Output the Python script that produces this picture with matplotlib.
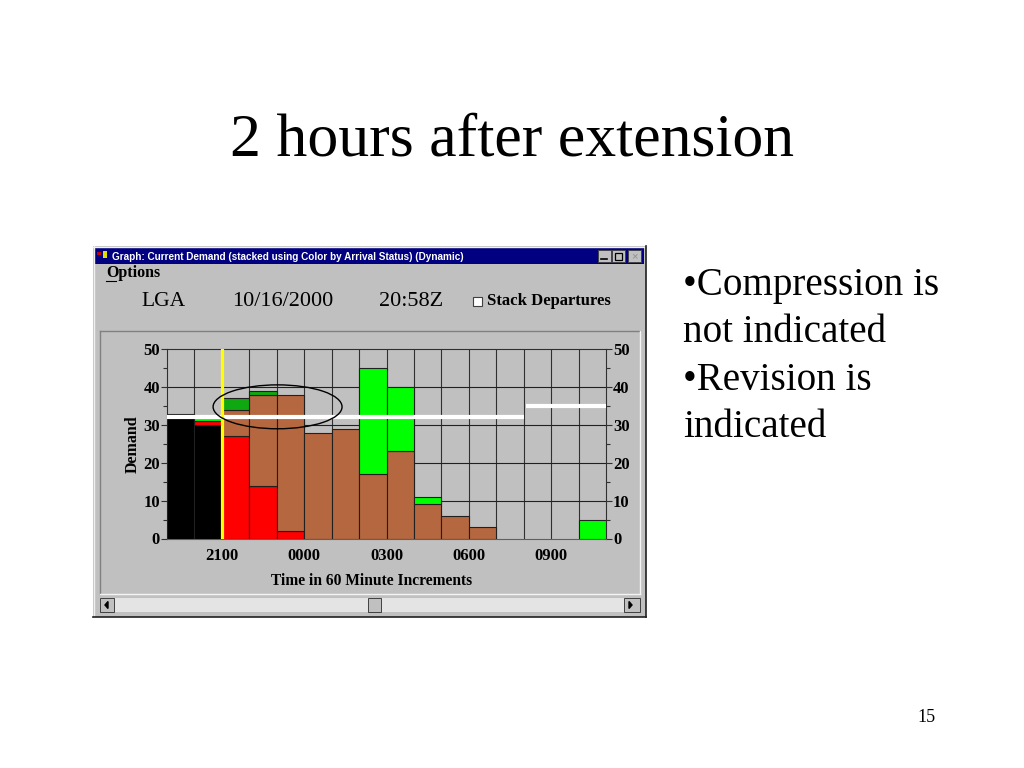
import matplotlib
matplotlib.use("Agg")
import matplotlib.pyplot as plt
from matplotlib.patches import Rectangle, Ellipse
import numpy as np

# ---------------- data ----------------
hours = ['1900', '2000', '2100', '2200', '2300', '0000', '0100', '0200',
         '0300', '0400', '0500', '0600', '0700', '0800', '0900', '1000']
black_vals = [33, 30, 0, 0, 0, 0, 0, 0, 0, 0, 0, 0, 0, 0, 0, 0]
red_vals = [0, 1, 27, 14, 2, 0, 0, 0, 0, 0, 0, 0, 0, 0, 0, 0]
brown_vals = [0, 0, 7, 24, 36, 28, 29, 17, 23, 9, 6, 3, 0, 0, 0, 0]
dkgreen_vals = [0, 0, 3, 1, 0, 0, 0, 0, 0, 0, 0, 0, 0, 0, 0, 0]
lime_vals = [0, 1, 0, 0, 0, 0, 0, 28, 17, 2, 0, 0, 0, 0, 0, 5]
capacity_1 = 32   # up to 0800
capacity_2 = 35   # from 0800
cap_change_hour = '0800'
now_hour = '2100'
tick_hours = ['2100', '0000', '0300', '0600', '0900']
y_ticks = [0, 10, 20, 30, 40, 50]

title = "2 hours after extension"
bullets = ["\u2022Compression is", "not indicated", "\u2022Revision is", "indicated"]
win_title = "Graph: Current Demand (stacked using Color by Arrival Status) (Dynamic)"

W, H = 1024, 768
fig = plt.figure(figsize=(W / 100, H / 100), dpi=100)
fig.patch.set_facecolor('white')

# background pixel-space axes
bg = fig.add_axes([0, 0, 1, 1])
bg.set_xlim(0, W)
bg.set_ylim(H, 0)
bg.axis('off')

GREY = '#c0c0c0'
serif = 'Liberation Serif'
sans = 'Liberation Sans'

# slide texts
bg.text(512, 155, title, ha='center', va='baseline', fontsize=44.5, family=serif)
for i, line in enumerate(bullets):
    bg.text(683, 295 + i * 47.3, line, ha='left', va='baseline', fontsize=28.2, family=serif)
bg.text(926, 718, "15", ha='center', va='center', fontsize=13, family=serif)

# window frame
bg.add_patch(Rectangle((93, 246), 553, 371, facecolor=GREY, edgecolor='none'))
bg.plot([93, 646], [246.5, 246.5], color='#f0f0f0', lw=1)
bg.plot([93.5, 93.5], [246, 617], color='#f0f0f0', lw=1)
bg.plot([93, 646], [616.5, 616.5], color='#202020', lw=1.2)
bg.plot([645.5, 645.5], [246, 617], color='#202020', lw=1.2)
# title bar
bg.add_patch(Rectangle((95, 248), 549, 16, facecolor='#000080', edgecolor='none'))
bg.add_patch(Rectangle((97, 252), 4, 3, facecolor='#c00000', edgecolor='none'))
bg.add_patch(Rectangle((103, 251), 4, 7, facecolor='#e0e000', edgecolor='none'))
bg.text(112, 256.5, win_title, ha='left', va='center', fontsize=7.2,
        family=sans, weight='bold', color='white')
for bx in (598, 612, 628):
    bg.add_patch(Rectangle((bx, 250), 13, 12, facecolor=GREY, edgecolor='#404040', lw=0.6))
bg.plot([601, 607], [259, 259], color='black', lw=1.2)
bg.add_patch(Rectangle((615, 252.5), 7, 7, facecolor='none', edgecolor='black', lw=0.9))
bg.text(634.5, 256.5, "\u00d7", ha='center', va='center', fontsize=8, color='#909090', family=sans)

# menu + header
bg.text(106, 273, "Options", ha='left', va='center', fontsize=11.5, family=serif, weight='bold')
bg.plot([106, 116], [281, 281], color='black', lw=0.8)
bg.text(163, 301, "LGA", ha='center', va='center', fontsize=15.5, family=serif)
bg.text(283, 301, "10/16/2000", ha='center', va='center', fontsize=16, family=serif)
bg.text(411, 301, "20:58Z", ha='center', va='center', fontsize=16, family=serif)
bg.add_patch(Rectangle((473, 297), 9, 9, facecolor='white', edgecolor='#404040', lw=0.8))
bg.text(487, 301, "Stack Departures", ha='left', va='center', fontsize=12,
        family=serif, weight='bold')

# inner panel (inset)
bg.plot([100, 640], [331, 331], color='#808080', lw=1)
bg.plot([100, 100], [331, 594], color='#808080', lw=1)
bg.plot([100, 640], [594, 594], color='#f4f4f4', lw=1)
bg.plot([640, 640], [331, 594], color='#f4f4f4', lw=1)

# scrollbar
bg.add_patch(Rectangle((100, 598), 540, 14, facecolor='#e4e4e4', edgecolor='none'))
for (x0, x1) in ((100, 114), (624, 640), (368, 381)):
    bg.add_patch(Rectangle((x0, 598), x1 - x0, 14, facecolor=GREY, edgecolor='#404040', lw=0.7))
bg.fill([108, 105, 108], [601.5, 605, 608.5], color='black')
bg.fill([629, 632, 629], [601.5, 605, 608.5], color='black')

# ---------------- chart ----------------
L, R, T, B = 167, 606, 349.3, 538.5
ax = fig.add_axes([L / W, 1 - B / H, (R - L) / W, (B - T) / H])
ax.set_facecolor(GREY)
n = len(hours)
x = np.arange(n)
ax.set_xlim(0, n)
ax.set_ylim(0, 50)

bottom = np.zeros(n)
for vals, col in ((black_vals, 'black'), (red_vals, '#ff0000'), (brown_vals, '#b5673f'),
                  (dkgreen_vals, '#10a810'), (lime_vals, '#00ff00')):
    v = np.array(vals, dtype=float)
    mask = v > 0
    ax.bar(x[mask], v[mask], bottom=bottom[mask], width=1, align='edge', color=col,
           edgecolor='#202020', linewidth=0.8, zorder=3)
    bottom += v

# grid
for xi in range(1, n):
    ax.axvline(xi, color='#303030', lw=0.8, zorder=2)
for yv in y_ticks[1:-1]:
    ax.axhline(yv, color='#202020', lw=0.8, zorder=2)

ci = hours.index(cap_change_hour)
ax.plot([0, ci], [capacity_1, capacity_1], color='white', lw=3, zorder=5, solid_capstyle='butt')
ax.plot([ci + 0.08, n], [capacity_2, capacity_2], color='white', lw=3, zorder=5, solid_capstyle='butt')
ni = hours.index(now_hour)
ax.plot([ni, ni], [0, 50], color='#ffff00', lw=2.3, zorder=6)

ax.add_patch(Ellipse((4.03, 34.8), 4.7, 11.6, facecolor='none', edgecolor='black', lw=1, zorder=7))

for s in ('left', 'right', 'top'):
    ax.spines[s].set_color('#303030')
    ax.spines[s].set_linewidth(0.8)
ax.spines['bottom'].set_color('#606060')
ax.spines['bottom'].set_linestyle((0, (1, 1)))

ax.set_yticks(y_ticks)
ax.set_yticks([5, 15, 25, 35, 45], minor=True)
ax.tick_params(axis='y', which='both', left=True, right=True, labelleft=True, labelright=True,
               direction='out', length=4, width=0.8, color='#303030', pad=1)
ax.tick_params(axis='y', which='minor', length=3)
ax.set_xticks([hours.index(h) for h in tick_hours])
ax.set_xticklabels(tick_hours)
ax.tick_params(axis='x', length=0, pad=7)
for lab in ax.get_yticklabels() + ax.get_xticklabels():
    lab.set_family(serif)
    lab.set_weight('bold')
    lab.set_fontsize(12)

bg.text(133, 444, "Demand", rotation=90, ha='center', va='center', fontsize=11.5,
        family=serif, weight='bold')
bg.text(372, 581, "Time in 60 Minute Increments", ha='center', va='center', fontsize=11.2,
        family=serif, weight='bold')

fig.savefig('out.png', dpi=100, facecolor='white')
